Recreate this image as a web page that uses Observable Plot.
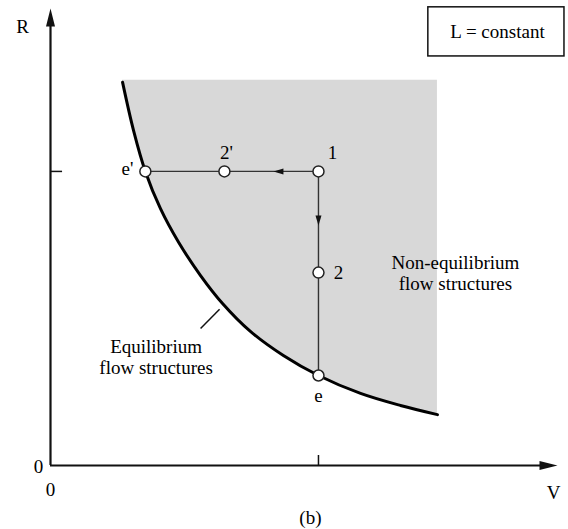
<!DOCTYPE html>
<html>
<head>
<meta charset="utf-8">
<script src="https://cdn.jsdelivr.net/npm/d3@7"></script>
<script src="https://cdn.jsdelivr.net/npm/@observablehq/plot@0.6"></script>
<style>html, body { margin: 0; padding: 0; background: #fff; }</style>
</head>
<body>
<div id="chart"></div>
<script>
// ---- data (V normalised so that V_e = 1, R normalised so that R_e' = 1) ----
const curveV = [0.269, 0.310, 0.354, 0.410, 0.478, 0.560, 0.642, 0.746, 0.869, 1.000, 1.157, 1.306, 1.444];
const curveR = [1.303, 1.139, 1.000, 0.874, 0.759, 0.646, 0.551, 0.456, 0.374, 0.306, 0.245, 0.204, 0.173];
const shadeTopR = 1.31;

const stateNames = ["e'", "2'", "1", "2", "e"];
const stateV = [0.354, 0.649, 1.0, 1.0, 1.0];
const stateR = [1.0, 1.0, 1.0, 0.656, 0.306];

const pathOrder = ["e'", "1", "e"];      // e' <- 1 -> e
const axisMaxV = 1.892, axisMaxR = 1.554;
const tickV = [1.0], tickR = [1.0];

// ---- tables built from the arrays ----
const curve = curveV.map((v, i) => ({V: v, R: curveR[i], top: shadeTopR}));
const states = stateNames.map((n, i) => ({name: n, V: stateV[i], R: stateR[i]}));
const byName = Object.fromEntries(states.map(d => [d.name, d]));
const path = pathOrder.map(n => byName[n]);

// state label offsets (pixels)
const labelOffsets = {"e'": [-12, -3, "end"], "2'": [2, -19, "middle"], "1": [14, -19, "middle"], "2": [20, 0, "middle"], "e": [0, 20, "middle"]};

// custom filled arrowhead symbols (tip at the anchor point, pointing right before rotation)
const head = (L, W) => ({draw(ctx) { ctx.moveTo(0, 0); ctx.lineTo(-L, -W / 2); ctx.lineTo(-L, W / 2); ctx.closePath(); }});
const axisHead = head(18, 9);
const flowHead = head(10, 6);

const F = "Liberation Serif";

const plot = Plot.plot({
  width: 568,
  height: 529,
  marginLeft: 50,
  marginRight: 11,
  marginTop: 8,
  marginBottom: 64,
  x: {domain: [0, axisMaxV], axis: null},
  y: {domain: [0, axisMaxR], axis: null},
  marks: [
    // shaded non-equilibrium region
    Plot.areaY(curve, {x: "V", y1: "R", y2: "top", curve: "catmull-rom", fill: "#d8d8d8"}),
    // axes
    Plot.ruleX([0], {y1: 0, y2: axisMaxR - 0.03, stroke: "#111", strokeWidth: 2.2}),
    Plot.ruleY([0], {x1: 0, x2: axisMaxV - 0.03, stroke: "#111", strokeWidth: 2.2}),
    Plot.dot([{V: 0, R: axisMaxR, a: -90}, {V: axisMaxV, R: 0, a: 0}], {x: "V", y: "R", rotate: "a", symbol: axisHead, fill: "#111", stroke: "none"}),
    Plot.text([{V: 0, R: 0, t: "0"}], {x: "V", y: "R", text: "t", dx: -12, dy: 1, fontFamily: F, fontSize: 19}),
    Plot.text([{V: 0, R: 0, t: "0"}], {x: "V", y: "R", text: "t", dx: 0, dy: 24, fontFamily: F, fontSize: 19}),
    // inward tick marks at V_e and R_e'
    Plot.ruleX(tickV, {y1: 0, y2: 0.034, stroke: "#111", strokeWidth: 1.5}),
    Plot.ruleY(tickR, {x1: 0, x2: 0.045, stroke: "#111", strokeWidth: 1.5}),
    // axis titles
    Plot.text(["R"], {x: 0, y: axisMaxR, dx: -28, dy: 18, text: d => d, fontFamily: F, fontSize: 19}),
    Plot.text(["V"], {x: axisMaxV, y: 0, dx: -4, dy: 27, text: d => d, fontFamily: F, fontSize: 19}),
    // equilibrium curve
    Plot.line(curve, {x: "V", y: "R", curve: "catmull-rom", stroke: "#000", strokeWidth: 3}),
    // process path e' <- 1 -> e
    Plot.line(path, {x: "V", y: "R", stroke: "#333", strokeWidth: 1.4}),
    Plot.dot([{V: 0.832, R: 1.0, a: 180}, {V: 1.0, R: 0.816, a: 90}], {x: "V", y: "R", rotate: "a", symbol: flowHead, fill: "#111", stroke: "none"}),
    Plot.dot(states, {x: "V", y: "R", r: 5.5, fill: "white", stroke: "#222", strokeWidth: 1.5}),
    ...states.map(s => Plot.text([s], {x: "V", y: "R", text: "name", fontFamily: F, fontSize: 19,
      dx: labelOffsets[s.name][0], dy: labelOffsets[s.name][1], textAnchor: labelOffsets[s.name][2]})),
    // region labels
    Plot.link([{x1: 0.560, y1: 0.466, x2: 0.631, y2: 0.531}], {x1: "x1", y1: "y1", x2: "x2", y2: "y2", stroke: "#111", strokeWidth: 1.5}),
    Plot.text([{V: 0.394, R: 0.369, t: "Equilibrium\nflow structures"}], {x: "V", y: "R", text: "t", lineHeight: 1.1, fontFamily: F, fontSize: 19}),
    Plot.text([{V: 1.511, R: 0.655, t: "Non-equilibrium\nflow structures"}], {x: "V", y: "R", text: "t", lineHeight: 1.1, fontFamily: F, fontSize: 19}),
    // "L = constant" box
    Plot.rect([{x1: 1.410, x2: 1.918, y1: 1.391, y2: 1.558}], {x1: "x1", x2: "x2", y1: "y1", y2: "y2", fill: "white", stroke: "#111", strokeWidth: 1.5}),
    Plot.text([{V: 1.668, R: 1.476, t: "L = constant"}], {x: "V", y: "R", text: "t", fontFamily: F, fontSize: 19}),
    // panel caption
    Plot.text([{V: 0.97, R: -0.177, t: "(b)"}], {x: "V", y: "R", text: "t", fontFamily: F, fontSize: 19})
  ]
});

document.getElementById("chart").appendChild(plot);
</script>
</body>
</html>
